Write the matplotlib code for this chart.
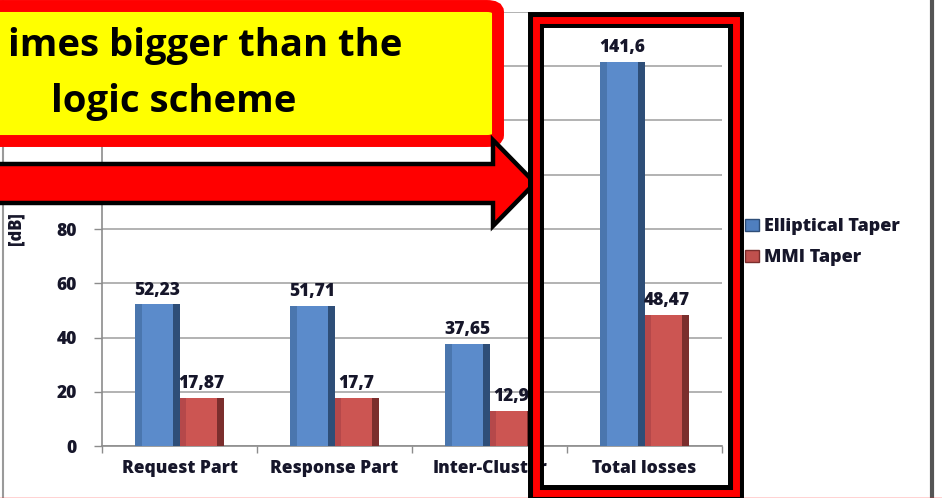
import matplotlib.pyplot as plt
import numpy as np
from matplotlib.patches import Patch, FancyBboxPatch, Polygon, Rectangle
from matplotlib.lines import Line2D

plt.rcParams['font.family'] = ['Open Sans', 'DejaVu Sans']
plt.rcParams['font.weight'] = 'bold'

# Loss per part of the network, in dB
categories = ['Request Part', 'Response Part', 'Inter-Cluster', 'Total losses']
elliptical = [52.23, 51.71, 37.65, 141.6]
mmi = [17.87, 17.7, 12.9, 48.47]
series_names = ['Elliptical Taper', 'MMI Taper']
y_ticks = [0, 20, 40, 60, 80, 100, 120, 140, 160]

W, H = 942, 498
fig = plt.figure(figsize=(W / 100, H / 100), dpi=100)


def fx(x):
    return x / W


def fy(y):
    return 1 - y / H


def px(x, y):
    return (fx(x), fy(y))


ax = fig.add_axes([fx(102), fy(446), fx(722) - fx(102), fy(12) - fy(446)])

x = np.arange(len(categories))
bw = 0.284
strip = 0.045
text_col = '#16162a'
heavy = 'heavy'

styles = [
    (elliptical, -bw / 2, '#5b8bcb', '#4a76ae', '#2e4e78'),
    (mmi, bw / 2, '#cc5552', '#b5484a', '#7b2e2d'),
]
for vals, off, main, left, right in styles:
    ax.bar(x + off, vals, bw, color=main, zorder=3)
    # bevel strips on the sides of each bar
    ax.bar(x + off - bw / 2, vals, strip, align='edge', color=left, zorder=4)
    ax.bar(x + off + bw / 2 - strip, vals, strip, align='edge', color=right, zorder=4)
    for xi, v in zip(x + off, vals):
        ax.annotate(str(v).replace('.', ','), (xi, v), xytext=(0, 4),
                    textcoords='offset points', ha='center', va='bottom',
                    fontsize=12.5, fontweight=heavy, color=text_col, zorder=5)

ax.set_xlim(-0.5, len(categories) - 0.5)
ax.set_ylim(0, 160)
ax.set_yticks(y_ticks)
ax.set_xticks(x)
ax.set_xticklabels(categories)
ax.set_xticks(np.arange(len(categories) + 1) - 0.5, minor=True)
ax.tick_params(axis='x', which='major', length=0, pad=10, labelsize=12.5,
               labelcolor=text_col)
ax.tick_params(axis='x', which='minor', length=5, color='#8c8c8c', width=1)
ax.tick_params(axis='y', length=6, color='#8c8c8c', width=1, pad=12,
               labelsize=12.5, labelcolor=text_col)
for lab in ax.get_xticklabels() + ax.get_yticklabels():
    lab.set_fontweight(heavy)
# the upper tick labels sit underneath the callout and arrow
for t, lab in zip(y_ticks, ax.get_yticklabels()):
    if t > 80:
        lab.set_visible(False)
ax.grid(axis='y', color='#a6a6a6', linewidth=1.2, zorder=0)
ax.set_axisbelow(True)
for s in ['top', 'right']:
    ax.spines[s].set_visible(False)
ax.spines['left'].set_color('#8c8c8c')
ax.spines['bottom'].set_color('#8c8c8c')
ax.spines['left'].set_linewidth(1.2)
ax.spines['bottom'].set_linewidth(1.2)
ax.set_ylabel('[dB]', fontsize=12, fontweight=heavy, color=text_col)
ax.yaxis.set_label_coords(-0.125, 0.5)

handles = [Patch(facecolor='#4f7fbf', edgecolor='#2e4e78'),
           Patch(facecolor='#c0504d', edgecolor='#7b2e2d')]
leg = fig.legend(handles, series_names, loc='upper left',
                 bbox_to_anchor=px(745, 218), frameon=False, fontsize=13,
                 handlelength=0.75, handleheight=0.65, handletextpad=0.3,
                 labelspacing=0.78, borderpad=0, borderaxespad=0,
                 labelcolor=text_col)
for t in leg.get_texts():
    t.set_fontweight(heavy)

# chart frame
fig.add_artist(Line2D([fx(3), fx(3)], [fy(0), fy(497)], color='#9a9a9a', lw=1.5))
fig.add_artist(Line2D([fx(932), fx(932)], [fy(0), fy(497)], color='#555555', lw=3))
fig.add_artist(Line2D([0, 1], [fy(497.5), fy(497.5)], color='#ff2020', lw=1))

# callout box
box = FancyBboxPatch(px(-30, 141), fx(528), fy(6) - fy(141),
                     boxstyle='round,pad=0,rounding_size=0.012',
                     facecolor='#ffff00', edgecolor='#ff0000', lw=8.6,
                     transform=fig.transFigure, zorder=10)
fig.add_artist(box)
fig.text(fx(402), fy(46), 'imes bigger than the', ha='right', va='center',
         fontsize=27.5, fontweight='bold', color='black', zorder=11)
fig.text(fx(174), fy(102), 'logic scheme', ha='center', va='center',
         fontsize=27.5, fontweight='bold', color='black', zorder=11)

# arrow pointing at the total
arrow_pts = [(-10, 164), (493, 164), (493, 140), (535, 183),
             (493, 226), (493, 203), (-10, 203)]
arrow = Polygon([px(a, b) for a, b in arrow_pts], closed=True,
                facecolor='#ff0000', edgecolor='black', lw=3.2,
                joinstyle='miter', transform=fig.transFigure, zorder=12)
fig.add_artist(arrow)

# frame around the total losses group
for col, lw in [('black', 11.5), ('#ff0000', 5)]:
    fig.add_artist(Rectangle(px(536, 493), fx(736) - fx(536), fy(20.5) - fy(493),
                             fill=False, edgecolor=col, lw=lw,
                             joinstyle='miter', transform=fig.transFigure,
                             zorder=13))

fig.savefig('out.png', dpi=100)
